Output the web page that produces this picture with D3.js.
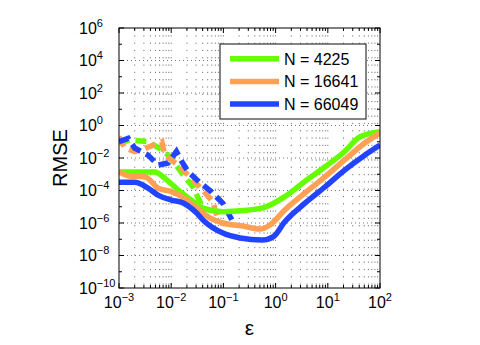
<!DOCTYPE html>
<html>
<head>
<meta charset="utf-8">
<script src="https://cdn.jsdelivr.net/npm/d3@7"></script>
<style>
  body { margin: 0; background: #fff; }
  text { font-family: "Liberation Sans", Arial, sans-serif; fill: #000; }
</style>
</head>
<body>
<svg id="chart" width="480" height="345"></svg>
<script>
// series labels + colours
const labels = ["N = 4225", "N = 16641", "N = 66049"];
const colors = ["#66ff00", "#ffa055", "#2244ff"];

// solid curves (epsilon, RMSE)
const epsGreen = [1e-3, 4.9e-3, 7.6e-3, 1.35e-2, 2.9e-2, 4.1e-2, 9.8e-2, 0.24, 0.63, 1.5, 3.6, 8.9, 21, 38, 71, 100];
const rmseGreen = [1.4e-3, 1.4e-3, 5.6e-4, 1.1e-4, 1.7e-5, 8.3e-6, 5.0e-6, 5.8e-6, 9.5e-6, 4.2e-5, 3.5e-4, 2.9e-3, 2.5e-2, 0.17, 0.35, 0.42];

const epsOrange = [1e-3, 1.5e-3, 3.2e-3, 5.6e-3, 1.0e-2, 1.6e-2, 2.9e-2, 5.6e-2, 9.8e-2, 0.25, 0.5, 0.78, 1.5, 3.6, 8.9, 21, 51, 100];
const rmseOrange = [1.4e-3, 8.1e-4, 6.8e-4, 1.4e-4, 8.5e-5, 4.2e-5, 1.0e-5, 2.0e-6, 1.0e-6, 6.3e-7, 4.2e-7, 7.6e-7, 6.3e-6, 6.8e-5, 7.1e-4, 7.6e-3, 8.3e-2, 0.35];

const epsBlue = [1e-3, 2.0e-3, 3.6e-3, 5.6e-3, 1.0e-2, 1.7e-2, 2.9e-2, 4.1e-2, 9.8e-2, 0.21, 0.55, 0.91, 1.5, 3.6, 8.9, 21, 51, 100];
const rmseBlue = [3.2e-4, 3.2e-4, 1.4e-4, 5.2e-5, 2.6e-5, 1.7e-5, 4.9e-6, 1.5e-6, 2.4e-7, 1.2e-7, 8.9e-8, 1.45e-7, 1.2e-6, 1.6e-5, 1.7e-4, 1.8e-3, 1.5e-2, 6.3e-2];

// dashed curves
const epsGreenD = [1e-3, 1.6e-3, 3.6e-3, 6.6e-3, 1.0e-2, 1.7e-2, 2.6e-2, 3.8e-2, 4.1e-2];
const rmseGreenD = [7.9e-2, 0.13, 0.1, 3.2e-2, 1.0e-2, 8.9e-4, 1.7e-4, 1.3e-5, 8.3e-6];

const epsOrangeD = [1e-3, 1.3e-3, 2.0e-3, 2.7e-3, 6.6e-3, 7.6e-3, 1.35e-2, 2.1e-2, 4.1e-2, 6.3e-2, 7.6e-2];
const rmseOrangeD = [0.2, 4.1e-2, 2.5e-2, 3.2e-2, 0.1, 1.5e-2, 3.7e-3, 8.9e-4, 1.0e-4, 2.0e-5, 2.5e-6];

const epsBlueD = [1e-3, 1.5e-3, 2.0e-3, 3.6e-3, 5.6e-3, 8.7e-3, 1.26e-2, 1.6e-2, 2.1e-2, 3.5e-2, 6.0e-2, 9.8e-2, 0.15];
const rmseBlueD = [0.1, 0.16, 4.1e-2, 1.5e-2, 3.7e-3, 4.9e-3, 2.5e-2, 5.9e-3, 1.45e-3, 3.2e-4, 7.9e-5, 1.6e-5, 1.3e-6];

const xTickExp = [-3, -2, -1, 0, 1, 2];
const yTickExp = [6, 4, 2, 0, -2, -4, -6, -8, -10];

const margin = {top: 28, right: 100, bottom: 57, left: 119};
const W = 480, H = 345;

const x = d3.scaleLog().domain([1e-3, 1e2]).range([margin.left, W - margin.right]);
const y = d3.scaleLog().domain([1e-10, 1e6]).range([H - margin.bottom, margin.top]);

const svg = d3.select("#chart");
svg.append("rect").attr("width", W).attr("height", H).attr("fill", "#fff");

const x0 = x.range()[0], x1 = x.range()[1];
const y0 = y.range()[1], y1 = y.range()[0];

// grid: dotted verticals at every minor x position, dotted horizontals at labelled y
const minorX = [];
for (let e = -3; e < 2; e++) for (let m = 1; m < 10; m++) minorX.push(m * Math.pow(10, e));
minorX.push(100);

const grid = svg.append("g");
grid.selectAll("line.vx")
  .data(minorX.filter(v => v > 1e-3 && v < 1e2))
  .join("line")
  .attr("x1", d => x(d)).attr("x2", d => x(d))
  .attr("y1", y0).attr("y2", y1)
  .attr("stroke", "#777").attr("stroke-width", 1)
  .attr("stroke-dasharray", "1.2,6.1");

grid.selectAll("line.hy")
  .data(yTickExp.filter(e => e > -10 && e < 6))
  .join("line")
  .attr("x1", x0).attr("x2", x1)
  .attr("y1", d => y(Math.pow(10, d))).attr("y2", d => y(Math.pow(10, d)))
  .attr("stroke", "#777").attr("stroke-width", 1)
  .attr("stroke-dasharray", "1,3");

// ticks (inward, all four sides)
const ticks = svg.append("g").attr("stroke", "#000").attr("stroke-width", 1);
minorX.forEach(v => {
  const major = Math.abs(Math.log10(v) - Math.round(Math.log10(v))) < 1e-9;
  const len = major ? 5 : 3;
  const px = x(v);
  ticks.append("line").attr("x1", px).attr("x2", px).attr("y1", y1).attr("y2", y1 - len);
  ticks.append("line").attr("x1", px).attr("x2", px).attr("y1", y0).attr("y2", y0 + len);
});
for (let e = -10; e <= 6; e++) {
  const py = y(Math.pow(10, e));
  const len = e % 2 === 0 ? 5 : 3;
  ticks.append("line").attr("x1", x0).attr("x2", x0 + len).attr("y1", py).attr("y2", py);
  ticks.append("line").attr("x1", x1).attr("x2", x1 - len).attr("y1", py).attr("y2", py);
}

// curves
svg.append("clipPath").attr("id", "clip")
  .append("rect").attr("x", x0).attr("y", y0).attr("width", x1 - x0).attr("height", y1 - y0);

const line = d3.line().x(d => x(d[0])).y(d => y(d[1]));
const zipXY = (a, b) => a.map((v, i) => [v, b[i]]);

const dashed = [
  zipXY(epsGreenD, rmseGreenD),
  zipXY(epsOrangeD, rmseOrangeD),
  zipXY(epsBlueD, rmseBlueD)
];
const solid = [
  zipXY(epsGreen, rmseGreen),
  zipXY(epsOrange, rmseOrange),
  zipXY(epsBlue, rmseBlue)
];

const plot = svg.append("g").attr("clip-path", "url(#clip)");

plot.selectAll("path.dash")
  .data(dashed)
  .join("path")
  .attr("fill", "none")
  .attr("stroke", (d, i) => colors[i])
  .attr("stroke-width", 5.5)
  .attr("stroke-dasharray", "11,6")
  .attr("d", line);

const smooth = d3.line().x(d => x(d[0])).y(d => y(d[1])).curve(d3.curveMonotoneX);
plot.selectAll("path.solid")
  .data(solid)
  .join("path")
  .attr("fill", "none")
  .attr("stroke", (d, i) => colors[i])
  .attr("stroke-width", 5.5)
  .attr("stroke-linejoin", "round")
  .attr("d", smooth);

// axes box
svg.append("rect")
  .attr("x", x0).attr("y", y0).attr("width", x1 - x0).attr("height", y1 - y0)
  .attr("fill", "none").attr("stroke", "#000").attr("stroke-width", 1);

// tick labels
const sup = e => (e < 0 ? "\u2212" + Math.abs(e) : "" + e);

const xl = svg.append("g");
xTickExp.forEach(e => {
  const t = xl.append("text")
    .attr("x", x(Math.pow(10, e)))
    .attr("y", y1 + 20)
    .attr("text-anchor", "middle")
    .style("font-size", "16px");
  t.append("tspan").text("10");
  t.append("tspan").attr("dy", -7).style("font-size", "11px").text(sup(e));
});

const yl = svg.append("g");
yTickExp.forEach(e => {
  const t = yl.append("text")
    .attr("x", 79)
    .attr("y", y(Math.pow(10, e)) + 5.5)
    .style("font-size", "16px");
  t.append("tspan").text("10");
  t.append("tspan").attr("dy", -7).style("font-size", "11px").text(sup(e));
});

// axis titles
svg.append("text")
  .attr("x", (x0 + x1) / 2).attr("y", 335)
  .attr("text-anchor", "middle")
  .style("font-size", "21px")
  .text("\u03b5");

svg.append("text")
  .attr("transform", `translate(67,${(y0 + y1) / 2}) rotate(-90)`)
  .attr("text-anchor", "middle")
  .style("font-size", "20px")
  .text("RMSE");

// legend
const lg = svg.append("g");
lg.append("rect")
  .attr("x", 220).attr("y", 44).attr("width", 146).attr("height", 75)
  .attr("fill", "#fff").attr("stroke", "#333").attr("stroke-width", 1.2);

labels.forEach((lab, i) => {
  const ly = 58.7 + i * 22.7;
  lg.append("line")
    .attr("x1", 230).attr("x2", 279).attr("y1", ly).attr("y2", ly)
    .attr("stroke", colors[i]).attr("stroke-width", 5.5);
  lg.append("text")
    .attr("x", 284).attr("y", ly + 6)
    .style("font-size", "16px")
    .text(lab);
});
</script>
</body>
</html>
